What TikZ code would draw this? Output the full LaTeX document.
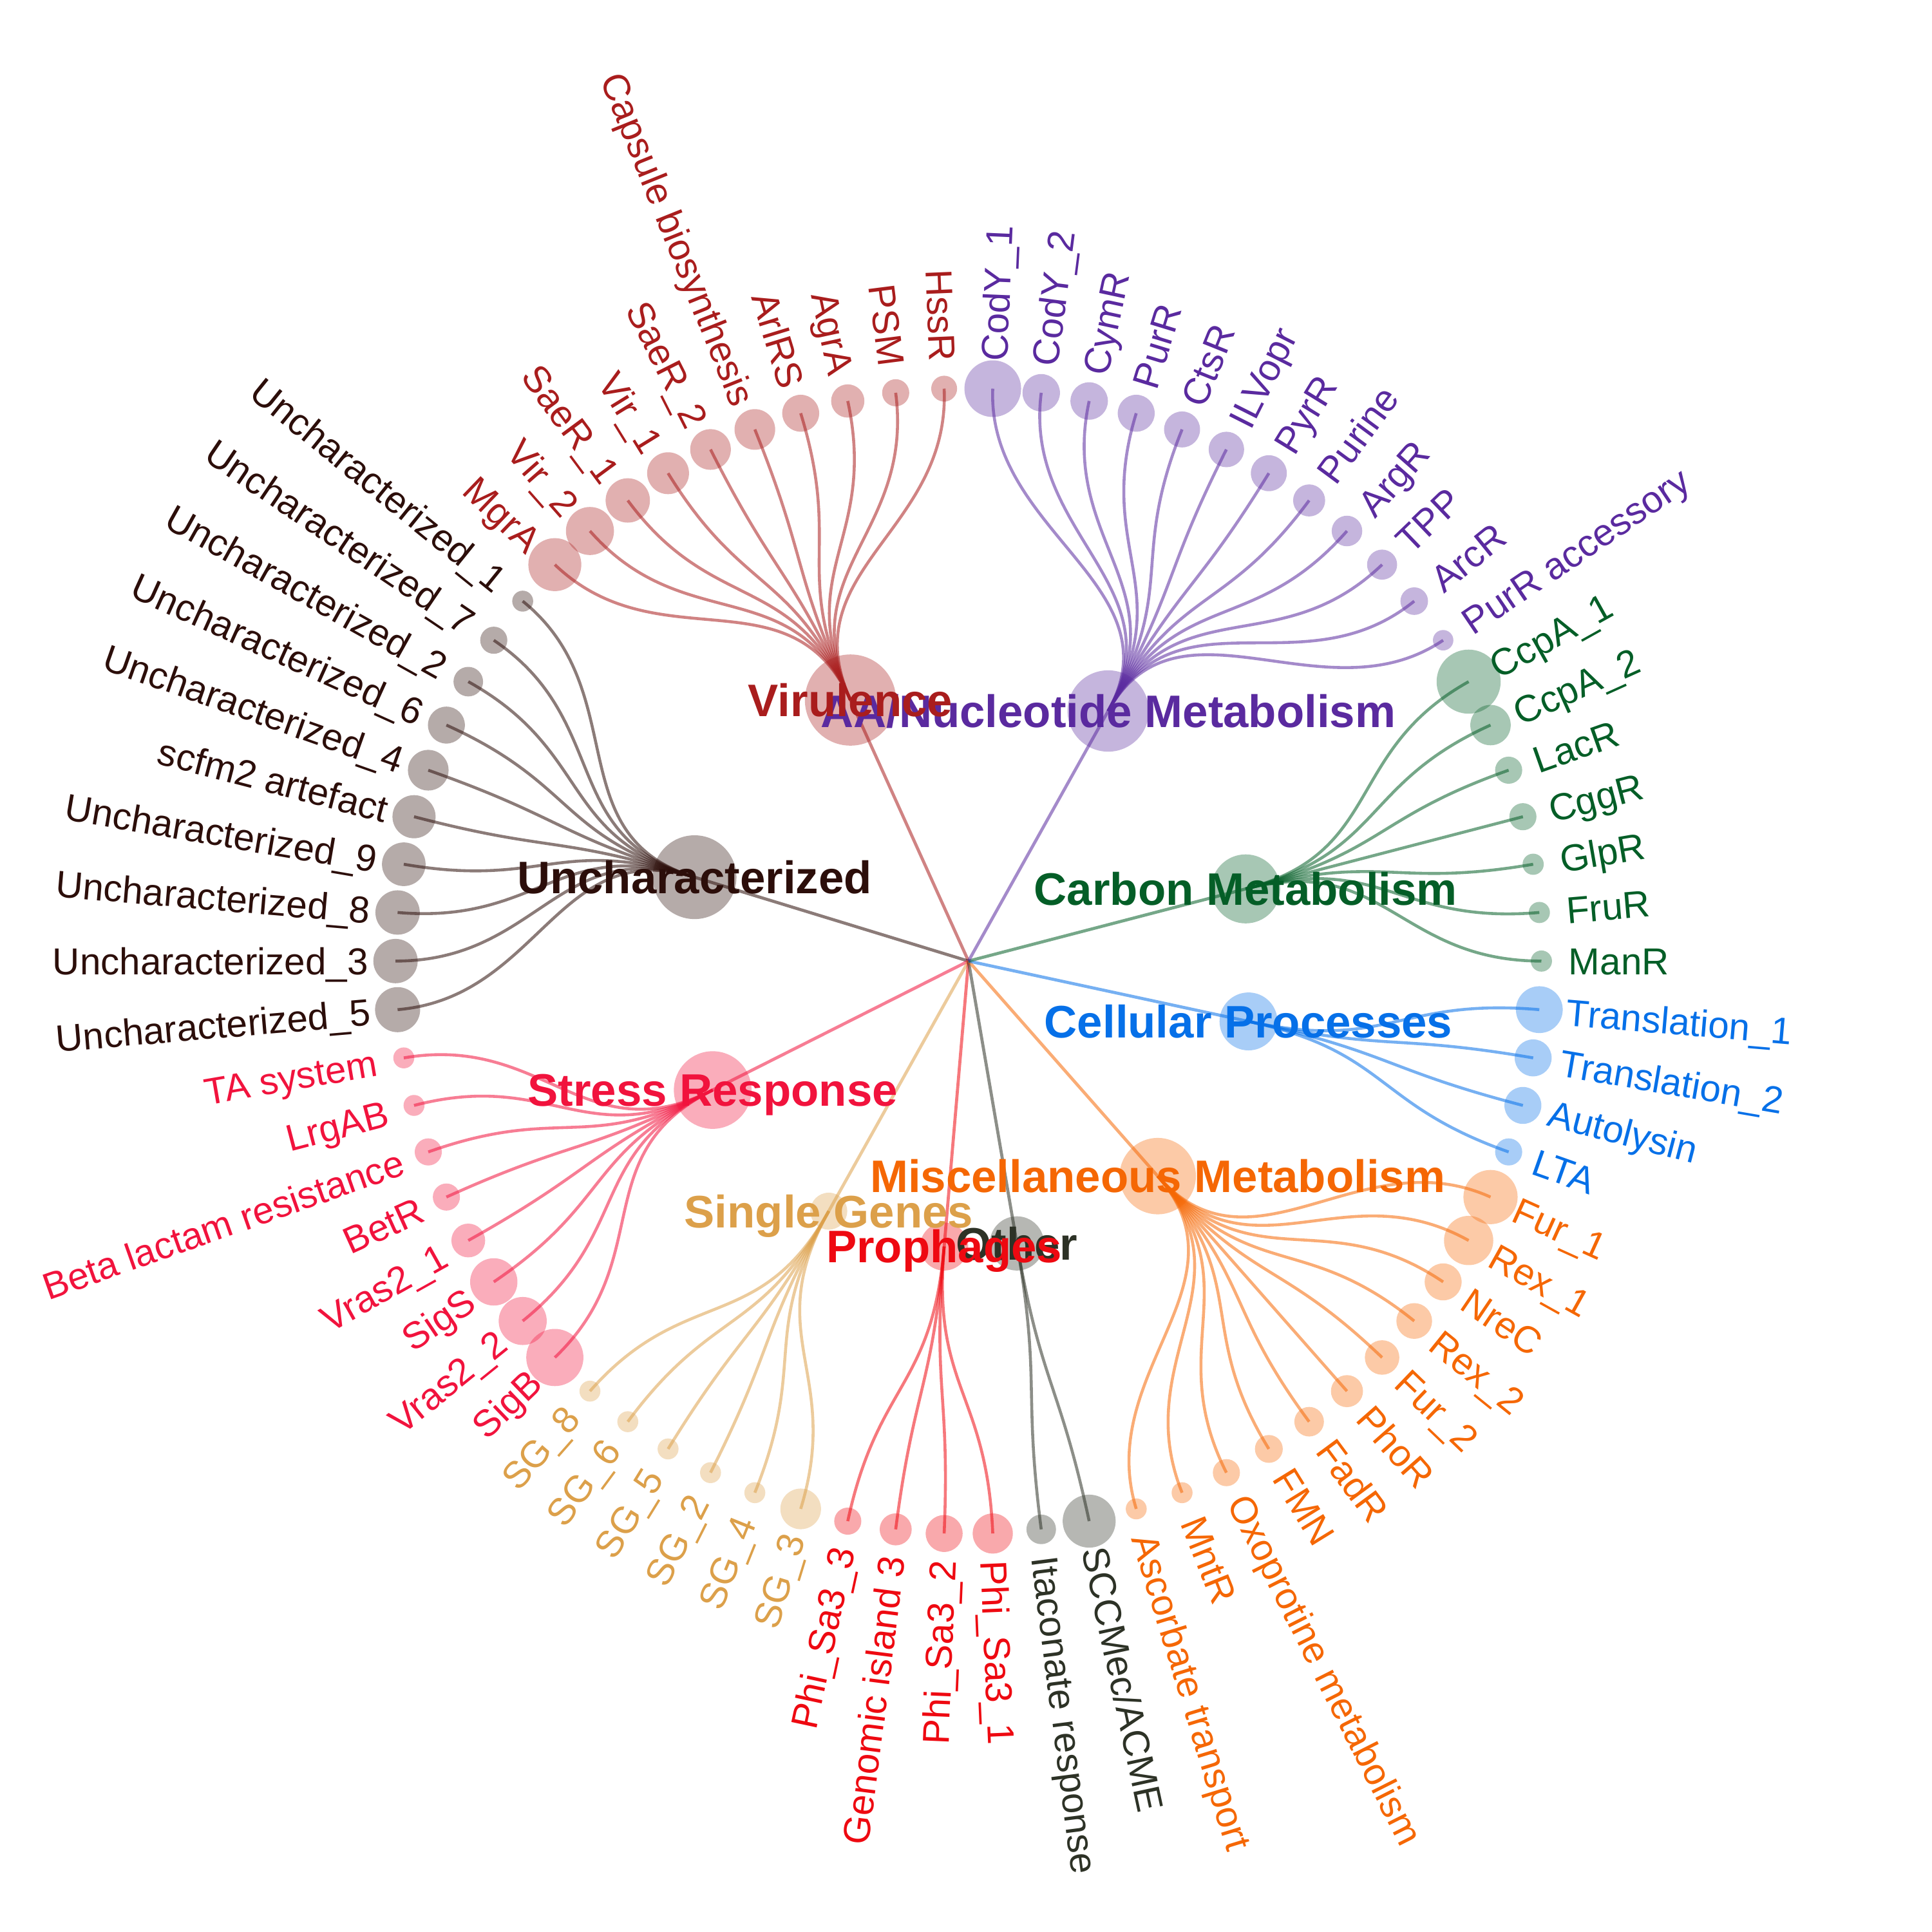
\documentclass[tikz,border=0pt]{standalone}
\usepackage{fontspec}
\setmainfont{Liberation Sans}
\definecolor{vir}{HTML}{A91D1D}
\definecolor{aa}{HTML}{5A2A9F}
\definecolor{unc}{HTML}{2C0E0A}
\definecolor{car}{HTML}{045E27}
\definecolor{cel}{HTML}{0670E8}
\definecolor{str}{HTML}{F1133D}
\definecolor{mis}{HTML}{F56704}
\definecolor{sg}{HTML}{DCA04A}
\definecolor{pro}{HTML}{EE0911}
\definecolor{oth}{HTML}{2D3226}
\newcommand\mysetcat[2]{\pgfmathsetmacro\tmpang{90+(#2+0.5)*4.8648649}\expandafter\let\csname ang#1\endcsname\tmpang}
\def\sccm{SCCMec/ACME}
\tikzset{
  dotnode/.style={circle, inner sep=0pt, draw=none, fill=#1, fill opacity=0.35},
  link/.style={draw=#1, draw opacity=0.55, line width=2.4pt},
  spoke/.style={draw=#1, draw opacity=0.55, line width=2.5pt},
  leaflabel/.style={inner sep=0pt, text=#1, text height=21.8pt, text depth=0pt, font=\fontsize{30.5}{36}\selectfont},
  catlabel/.style={inner sep=0pt, text=#1, text height=26.5pt, text depth=0pt, anchor=center, font=\bfseries\fontsize{37}{44}\selectfont}
}
\begin{document}
\begin{tikzpicture}[x=1pt,y=1pt]
\useasboundingbox (-786,-788) rectangle (782,780);
\coordinate (C) at (0,0);
\mysetcat{vir}{4.5}
\mysetcat{unc}{14.5}
\mysetcat{str}{23.5}
\mysetcat{sg}{30.5}
\mysetcat{pro}{35.5}
\mysetcat{oth}{38.5}
\mysetcat{mis}{45}
\mysetcat{cel}{52.5}
\mysetcat{car}{58}
\mysetcat{aa}{67.5}
% category nodes
\foreach \cat/\dia in {vir/74, unc/68, str/63, sg/30, pro/39, oth/44, mis/62, cel/47, car/56, aa/66} {
  \node[dotnode=\cat, minimum size=\dia] (\cat) at (\csname ang\cat\endcsname:232.5) {};
}
% spokes
\foreach \cat in {vir, unc, str, sg, pro, oth, mis, cel, car, aa} {
  \draw[spoke=\cat] (C) -- (\cat.center);
}
% leaves
\foreach \idx/\nm/\rad/\cat in {
0/HssR/10.5/vir, 1/PSM/11/vir, 2/AgrA/13.5/vir, 3/ArlRS/15/vir, 4/Capsule biosynthesis/16.5/vir,
5/SaeR\_2/16.5/vir, 6/Vir\_1/17/vir, 7/SaeR\_1/18/vir, 8/Vir\_2/19.5/vir, 9/MgrA/21.5/vir,
10/Uncharacterized\_1/8.5/unc, 11/Uncharacterized\_7/11/unc, 12/Uncharacterized\_2/12/unc,
13/Uncharacterized\_6/15/unc, 14/Uncharacterized\_4/16.5/unc, 15/scfm2 artefact/17.5/unc,
16/Uncharacterized\_9/17.7/unc, 17/Uncharacterized\_8/18/unc, 18/Uncharacterized\_3/18/unc,
19/Uncharacterized\_5/18.3/unc,
20/TA system/8.5/str, 21/LrgAB/8.5/str, 22/Beta lactam resistance/11/str, 23/BetR/11/str,
24/Vras2\_1/13.7/str, 25/SigS/19.2/str, 26/Vras2\_2/19.5/str, 27/SigB/23.2/str,
28/SG\_8/8.5/sg, 29/SG\_6/8.5/sg, 30/SG\_5/8.5/sg, 31/SG\_2/8.5/sg, 32/SG\_4/8.5/sg, 33/SG\_3/16.5/sg,
34/Phi\_Sa3\_3/11/pro, 35/Genomic island 3/13/pro, 36/Phi\_Sa3\_2/15/pro, 37/Phi\_Sa3\_1/16.3/pro,
38/Itaconate response/12/oth, 39/\sccm/21.5/oth,
40/Ascorbate transport/8.5/mis, 41/MntR/8.5/mis, 42/Oxoprotine metabolism/11/mis, 43/FMN/11.3/mis,
44/FadR/12/mis, 45/PhoR/13/mis, 46/Fur\_2/14/mis, 47/Rex\_2/14.5/mis, 48/NreC/15/mis,
49/Rex\_1/20/mis, 50/Fur\_1/22/mis,
51/LTA/11/cel, 52/Autolysin/15/cel, 53/Translation\_2/15/cel, 54/Translation\_1/19/cel,
55/ManR/8.6/car, 56/FruR/8.6/car, 57/GlpR/8.6/car, 58/CggR/11/car, 59/LacR/11/car,
60/CcpA\_2/16.4/car, 61/CcpA\_1/26/car,
62/PurR accessory/8.3/aa, 63/ArcR/11.2/aa, 64/TPP/12.2/aa, 65/ArgR/12.4/aa, 66/Purine/13/aa,
67/PyrR/14.6/aa, 68/ILVopr/14.4/aa, 69/CtsR/14.6/aa, 70/PurR/15/aa, 71/CymR/15.2/aa,
72/CodY\_2/15.2/aa, 73/CodY\_1/23/aa} {
  \pgfmathsetmacro\ang{90+(\idx+0.5)*4.8648649}
  \node[dotnode=\cat, minimum size=2*\rad] (l\idx) at (\ang:465) {};
  \draw[link=\cat] (\cat.center) .. controls (\csname ang\cat\endcsname:348.75) and (\ang:348.75) .. (l\idx.center);
  \pgfmathtruncatemacro\side{\ang<270 ? 1 : 0}
  \ifnum\side=1
    \pgfmathsetmacro\rot{\ang-180}
    \node[leaflabel=\cat, anchor=east, rotate=\rot] (t\idx) at (\ang:487) {\nm};
  \else
    \node[leaflabel=\cat, anchor=west, rotate=\ang] (t\idx) at (\ang:487) {\nm};
  \fi
}
% category labels
\node[catlabel=aa] (aaL) at (aa) {AA/Nucleotide Metabolism};
\node[catlabel=car] (carL) at (car) {Carbon Metabolism};
\node[catlabel=cel] (celL) at (cel) {Cellular Processes};
\node[catlabel=mis] (misL) at (mis) {Miscellaneous Metabolism};
\node[catlabel=oth] (othL) at (oth) {Other};
\node[catlabel=sg] (sgL) at (sg) {Single Genes};
\node[catlabel=pro] (proL) at (pro) {Prophages};
\node[catlabel=str] (strL) at (str) {Stress Response};
\node[catlabel=unc] (uncL) at (unc) {Uncharacterized};
\node[catlabel=vir] (virL) at (vir) {Virulence};
\end{tikzpicture}
\end{document}
